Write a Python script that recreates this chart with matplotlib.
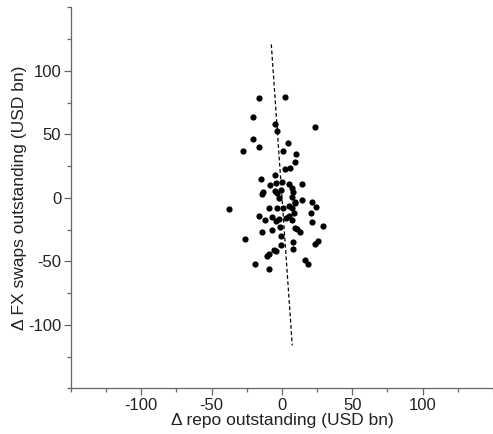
import numpy as np
import matplotlib
matplotlib.use('Agg')
from matplotlib import pyplot as plt
from matplotlib.ticker import MultipleLocator

plt.rcParams['font.family'] = ['Liberation Sans', 'DejaVu Sans']
plt.rcParams['axes.unicode_minus'] = False

# change in repo outstanding vs change in FX swaps outstanding (USD bn)
repo = [-16.1, 1.9, -20.9, -4.8, 23.2, -3.6, -20.9, 4.0, -27.5, -16.1,
        0.7, 9.7, 8.9, 5.4, 2.1, -4.8, -15.2, -8.5, -4.3, 0.0,
        5.2, 13.9, -13.8, -14.5, -5.3, -3.8, -0.5, 6.8, 8.0, -2.4,
        7.1, 8.9, 14.4, 21.0, 24.1, -37.4, -9.5, -3.8, 0.7, 5.2,
        7.3, 9.4, 8.7, 20.6, -16.1, -11.9, -7.4, -4.3, -1.9, 2.8,
        5.2, 6.8, 21.5, 28.8, -14.0, -7.1, -1.2, 9.4, 10.4, 12.8,
        -0.5, -26.1, 7.5, 8.0, 25.8, 23.4, -1.0, -6.0, -4.0, -9.5,
        -10.9, -19.5, -9.5, 16.1, 18.7]
fx = [79.0, 79.5, 64.0, 58.5, 56.1, 52.5, 46.2, 43.3, 36.8, 40.2,
      36.8, 34.4, 28.1, 23.9, 22.6, 18.1, 14.7, 10.5, 11.6, 12.4,
      10.8, 10.8, 5.0, 2.9, 5.5, 3.7, 6.1, 7.6, 5.0, -0.2,
      0.6, -2.9, -1.3, -3.4, -7.1, -8.9, -7.9, -7.9, -7.6, -6.3,
      -7.9, -3.9, -12.0, -11.6, -14.2, -17.3, -15.2, -18.3, -16.8, -15.7,
      -13.9, -17.3, -19.1, -22.0, -26.8, -25.2, -23.1, -23.4, -24.6, -26.5,
      -29.7, -32.5, -34.9, -40.2, -33.9, -36.5, -37.2, -40.9, -42.0, -44.1,
      -45.7, -52.0, -55.7, -49.1, -52.0]

# fitted line
fit_x = [-7.6, 7.3]
fit_slope = -15.9
fit_icept = 0.0

fig = plt.figure(figsize=(4.93, 4.34), dpi=100)
ax = fig.add_axes([0.144, 0.105, 0.856, 0.878])

ax.scatter(repo, fx, s=20, color='black', linewidths=0, zorder=3)
lx = np.array(fit_x)
ax.plot(lx, fit_icept + fit_slope * lx, color='black', lw=0.9,
        linestyle=(0, (3, 2)), zorder=2)

ax.set_xlim(-150, 150)
ax.set_ylim(-150, 150)
ax.xaxis.set_minor_locator(MultipleLocator(25))
ax.yaxis.set_minor_locator(MultipleLocator(25))
ax.set_xticks([-100, -50, 0, 50, 100])
ax.set_yticks([-100, -50, 0, 50, 100])

for s in ['top', 'right']:
    ax.spines[s].set_visible(False)
for s in ['left', 'bottom']:
    ax.spines[s].set_color('#666666')
    ax.spines[s].set_linewidth(0.9)

ax.tick_params(which='both', direction='out', color='#666666', width=0.9,
               labelsize=12, labelcolor='#222222', pad=2)
ax.tick_params(which='major', length=5)
ax.tick_params(which='minor', length=3)

ax.set_xlabel('Δ repo outstanding (USD bn)', fontsize=12.5, color='#222222', labelpad=0)
ax.set_ylabel('Δ FX swaps outstanding (USD bn)', fontsize=12.5, color='#222222', labelpad=1)

fig.savefig('out.png', dpi=100)
